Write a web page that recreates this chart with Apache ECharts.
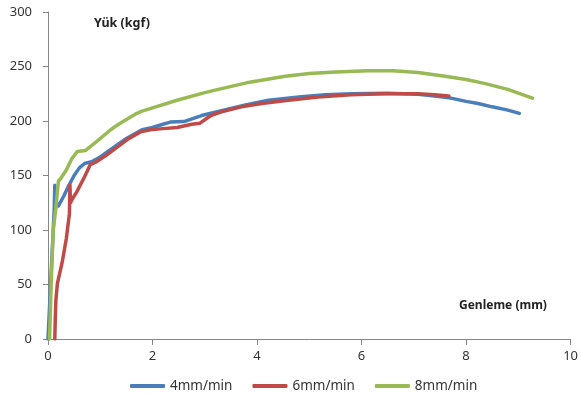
<!DOCTYPE html>
<html>
<head>
<meta charset="utf-8">
<script src="https://cdn.jsdelivr.net/npm/echarts@6/dist/echarts.min.js"></script>
<style>html,body{margin:0;padding:0;background:#fff}#c{width:581px;height:403px}</style>
</head>
<body>
<div id="c"></div>
<script>
const seriesNames = ['4mm/min', '6mm/min', '8mm/min'];
const xTicks = [0, 2, 4, 6, 8, 10];
const yTicks = [0, 50, 100, 150, 200, 250, 300];

const s4 = [[0,0],[0.05,50],[0.1,100],[0.12,120],[0.13,141],[0.14,127],[0.2,122],[0.3,131],[0.4,141],[0.5,150],[0.6,157],[0.7,161],[0.85,163],[1.0,167],[1.2,174],[1.35,179],[1.5,184],[1.8,192],[2.0,194],[2.2,197],[2.34,199],[2.6,199.5],[2.94,205],[3.36,210],[3.8,215],[4.22,219],[4.8,222],[5.3,224],[5.81,225],[6.5,225.5],[7.08,224.5],[7.4,223],[7.71,221],[8.0,218],[8.23,216],[8.5,213],[8.8,210],[9.02,207]];
const s6 = [[0.13,0],[0.14,20],[0.15,35],[0.18,51],[0.27,70],[0.35,92],[0.41,115],[0.42,141],[0.43,125],[0.46,128],[0.55,135],[0.69,148],[0.75,154],[0.81,160],[0.94,163],[1.1,168],[1.35,177],[1.55,184],[1.77,190],[1.96,192],[2.2,193],[2.47,194],[2.75,197],[2.91,198],[3.04,202.5],[3.14,205.5],[3.36,209],[3.7,213],[4.09,216],[4.6,219],[5.17,222],[5.8,224],[6.44,225],[7.08,225],[7.4,224],[7.67,223]];
const s8 = [[0.03,0],[0.06,50],[0.1,100],[0.15,120],[0.2,145],[0.24,147],[0.35,155],[0.45,165],[0.56,172],[0.72,173],[0.9,180],[1.2,192],[1.35,197],[1.7,207],[1.8,209],[2.0,212],[2.47,219],[3.0,226],[3.26,229],[3.8,235],[4.54,241],[5.0,243.5],[5.5,245],[6.13,246],[6.6,246],[7.08,244.5],[7.6,241],[8.0,238],[8.35,234.5],[8.8,229],[9.27,221]];
const colors = ['#4a7ebb', '#be4b48', '#98b954'];

const chart = echarts.init(document.getElementById('c'), null, {renderer: 'canvas'});
const font = 'Noto Sans';
chart.setOption({
  animation: false,
  backgroundColor: '#fff',
  textStyle: {fontFamily: font},
  grid: {left: 48, right: 9, top: 12, bottom: 64, containLabel: false},
  xAxis: {
    type: 'value', min: xTicks[0], max: xTicks[xTicks.length-1], interval: 2,
    axisLine: {show: true, lineStyle: {color: '#868686', width: 1}},
    axisTick: {show: true, length: 6, inside: false, lineStyle: {color: '#868686'}},
    axisLabel: {color: '#333', fontSize: 13, margin: 11, fontFamily: font},
    splitLine: {show: false}
  },
  yAxis: {
    type: 'value', min: yTicks[0], max: yTicks[yTicks.length-1], interval: 50,
    axisLine: {show: true, lineStyle: {color: '#868686', width: 1}},
    axisTick: {show: true, length: 5, inside: false, lineStyle: {color: '#868686'}},
    axisLabel: {color: '#333', fontSize: 13, margin: 16, fontFamily: font},
    splitLine: {show: false}
  },
  legend: {
    bottom: 5, left: 125, itemWidth: 35, itemHeight: 4, itemGap: 20, icon: 'roundRect',
    textStyle: {color: '#333', fontSize: 13.5, fontFamily: font},
    data: seriesNames
  },
  graphic: [
    {type: 'text', left: 94, top: 17, style: {text: 'Yük (kgf)', font: 'bold 12.5px "Noto Sans"', fill: '#222'}},
    {type: 'text', left: 459, top: 300, style: {text: 'Genleme (mm)', font: 'bold 12px "Noto Sans"', fill: '#222'}}
  ],
  series: [s4, s6, s8].map((d, i) => ({
    name: seriesNames[i], type: 'line', data: d, showSymbol: false, smooth: false,
    lineStyle: {color: colors[i], width: 3.5, cap: 'round', join: 'round'}, itemStyle: {color: colors[i]}
  }))
});
</script>
</body>
</html>
